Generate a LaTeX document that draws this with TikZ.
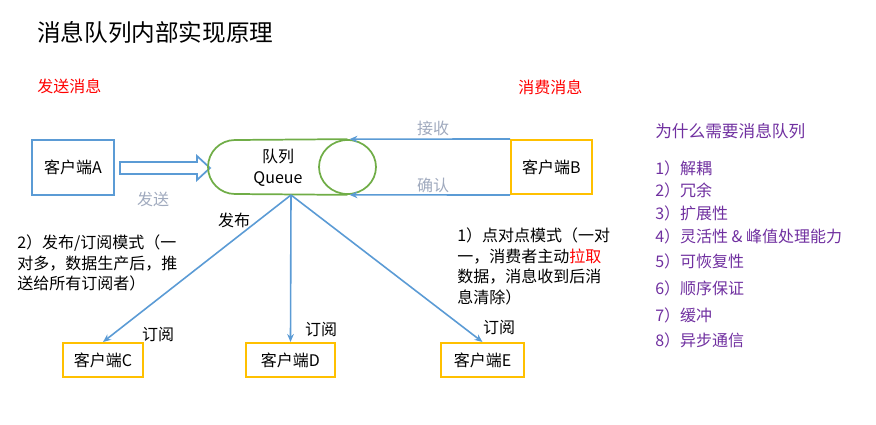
\documentclass[tikz,border=0pt]{standalone}
\usepackage{fontspec}
\setmainfont{Noto Sans CJK SC}
\usetikzlibrary{arrows.meta,positioning,shapes.geometric,calc}
\definecolor{lineblue}{RGB}{91,155,213}
\definecolor{boxyellow}{RGB}{255,192,0}
\definecolor{qgreen}{RGB}{112,173,71}
\definecolor{lblgray}{RGB}{160,170,190}
\definecolor{msgred}{RGB}{255,0,0}
\definecolor{whypurple}{RGB}{112,48,160}

\begin{document}
\begin{tikzpicture}[x=0.75pt, y=-0.75pt,
  lbl/.style={inner sep=0pt, font=\fontsize{12}{15.4}\selectfont},
  box/.style={lbl, draw, line width=1.5pt},
  bluebox/.style={box, draw=lineblue, minimum width=61.5pt, minimum height=41.25pt},
  yelbox/.style={box, draw=boxyellow},
  note/.style={lbl, align=left, anchor=west},
  item/.style={lbl, anchor=west, text=whypurple},
  arr/.style={-{Stealth[length=6pt, width=5pt]}, draw=lineblue, line width=1.2pt}
]
\useasboundingbox (0,0) rectangle (876,425);

% titles
\node[lbl, anchor=west, font=\fontsize{17.7}{20}\selectfont] (title) at (37,32) {消息队列内部实现原理};
\node[lbl, anchor=west, text=msgred] (send) at (37,86) {发送消息};
\node[lbl, anchor=west, text=msgred] (consume) at (518,87) {消费消息};

% producer, queue, consumer
\node[bluebox] (cA) at (73,167) {客户端A};
\coordinate (tip) at (210,168);
\draw[lineblue, line width=1.3pt, fill=white]
  ($(cA.east)+(5,-5)$) -- (197,162) -- (197,156) -- (tip) -- (197,180)
  -- (197,174) -- ($(cA.east)+(5,7)$) -- cycle;
\node[lbl, text=lblgray] (sendlbl) at (153,199) {发送};

\node[ellipse, draw=qgreen, line width=1.3pt, inner sep=0pt,
      minimum width=42.75pt, minimum height=40.5pt] (ring) at (347.5,167) {};
\draw[qgreen, line width=1.3pt] (ring.north) -- (235,140)
  arc[start angle=270, end angle=90, radius=27] -- (ring.south);
\node[lbl, align=center] (q) at (278,168) {队列\\Queue};

\node[yelbox, minimum width=60.75pt, minimum height=40.5pt] (cB) at (551.5,167) {客户端B};
\draw[arr] (cB.north west) -- ([xshift=1.5pt]ring.north);
\draw[arr] (cB.south west) -- ([xshift=1.5pt]ring.south);
\node[lbl, text=lblgray] (recv) at (433,128) {接收};
\node[lbl, text=lblgray] (ack) at (433,185) {确认};

% subscribers
\coordinate (pub) at (291,195);
\node[yelbox, minimum width=60pt, minimum height=25.5pt] (cC) at (103,360) {客户端C};
\node[yelbox, minimum width=66.75pt, minimum height=25.5pt] (cD) at (290.5,360) {客户端D};
\node[yelbox, minimum width=62.25pt, minimum height=25.5pt] (cE) at (482.5,360) {客户端E};
\draw[arr] (pub) -- (cC.north);
\draw[arr] (pub) -- (cD.north);
\draw[arr] (pub) -- (cE.north);
\node[lbl] (publbl) at (234,220) {发布};
\node[lbl] (subC) at (158,335) {订阅};
\node[lbl] (subD) at (321,330) {订阅};
\node[lbl] (subE) at (499,328) {订阅};

\node[note] (pubsub) at (17,263) {2）发布/订阅模式（一\\对多，数据生产后，推\\送给所有订阅者）};
\node[note] (p2p) at (457,266.5) {1）点对点模式（一对\\一，消费者主动\textcolor{msgred}{拉取}\\数据，消息收到后消\\息清除）};

% why a message queue
\node[item, font=\fontsize{12.5}{15}\selectfont] (why) at (655,131) {为什么需要消息队列};
\foreach \t/\y [count=\i] in {1）解耦/168, 2）冗余/190, 3）扩展性/213,
    4）灵活性 \& 峰值处理能力/236, 5）可恢复性/261, 6）顺序保证/288,
    7）缓冲/315, 8）异步通信/340}
  \node[item] (why\i) at (655,\y) {\t};
\end{tikzpicture}
\end{document}
